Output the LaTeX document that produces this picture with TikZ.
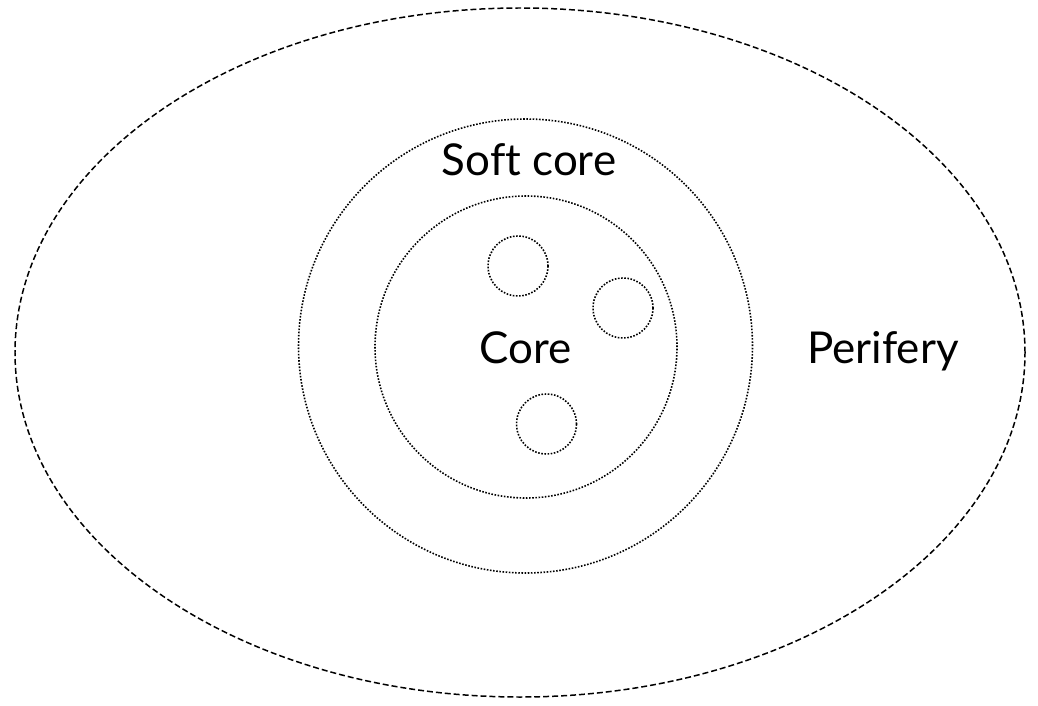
\documentclass[tikz,border=0pt]{standalone}
\usepackage{fontspec}
\setmainfont{Lato}[Ligatures=NoCommon]
\usepackage{tikz}
\usetikzlibrary{shapes.geometric}

\tikzset{
	ring/.style={draw,circle,inner sep=0pt,line width=0.9pt,dash pattern=on 0.9pt off 0.9pt},
	lbl/.style={font=\fontsize{25}{30}\selectfont,inner sep=0pt}
}

\begin{document}
\begin{tikzpicture}[x=0.02cm,y=-0.02cm]
		\useasboundingbox (0,0) rectangle (1038,706);
		%
		\node[draw,ellipse,inner sep=0pt,minimum width=1010*0.02cm,minimum height=689*0.02cm,line width=0.85pt,dash pattern=on 3.4pt off 1.7pt] (peri) at (520,352.5) {};
		\node[ring,minimum size=454*0.02cm] (soft) at (525.5,346) {};
		\node[ring,minimum size=302*0.02cm] (core) at (526,347) {};
		%
		\node[ring,minimum size=60*0.02cm] (c1) at (518,266) {};
		\node[ring,minimum size=60*0.02cm] (c2) at (623,308) {};
		\node[ring,minimum size=60*0.02cm] (c3) at (546.5,424) {};
		%
		\node[lbl,anchor=base] (softlbl) at (529,175) {Soft core};
		\node[lbl,anchor=base] (corelbl) at (526,363) {Core};
		\node[lbl,anchor=base] (perilbl) at (883,363) {Perifery};
\end{tikzpicture}
\end{document}
